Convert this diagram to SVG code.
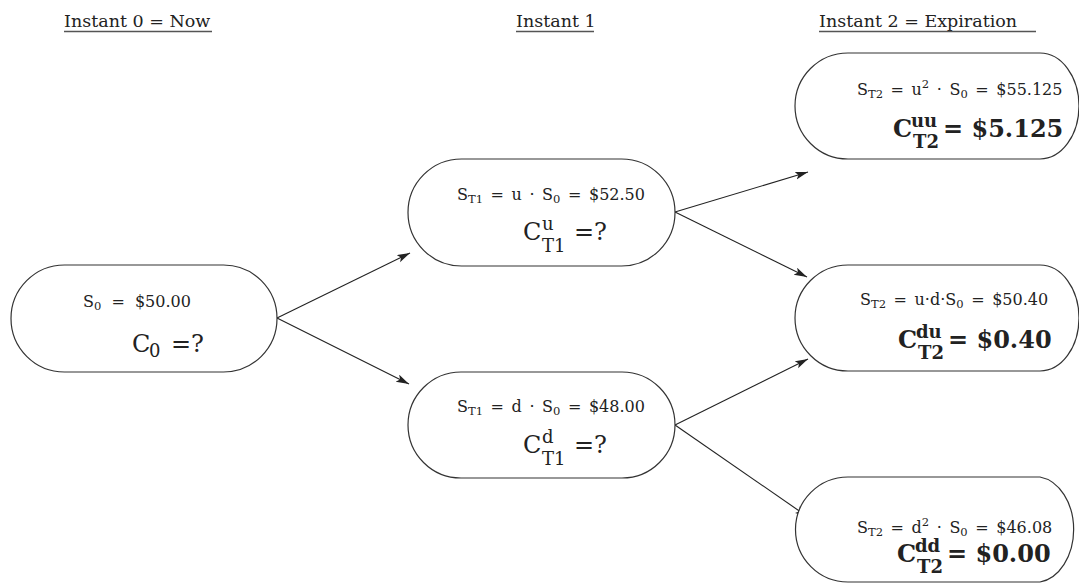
<svg xmlns="http://www.w3.org/2000/svg" width="1079" height="584" viewBox="0 0 1079 584">
<style>
text{font-family:"DejaVu Serif","Liberation Serif",serif;fill:#222;}
.hd{font-size:17.5px;}
.s{font-size:16px;word-spacing:2.5px;}
.sub{font-size:11.5px;}
.big{font-size:24px;}
.bsub{font-size:18px;}
.b{font-weight:bold;}
.node{fill:#fff;stroke:#333;stroke-width:1.2;}
.ul{stroke:#555;stroke-width:1.5;}
.edge{stroke:#222;stroke-width:1.1;fill:none;marker-end:url(#ah);}
</style>
<defs>
<marker id="ah" markerUnits="userSpaceOnUse" markerWidth="14" markerHeight="10" refX="13" refY="4" orient="auto">
<path d="M0,0 L13,4 L0,8 L3,4 z" fill="#222"/>
</marker>
</defs>
<rect width="1079" height="584" fill="#fff"/>
<g id="headers">
<text class="hd" x="64" y="27">Instant 0 = Now</text>
<line class="ul" x1="64" y1="31.5" x2="212" y2="31.5"/>
<text class="hd" x="516" y="27">Instant 1</text>
<line class="ul" x1="516" y1="31.5" x2="594" y2="31.5"/>
<text class="hd" x="819" y="27">Instant 2 = Expiration</text>
<line class="ul" x1="819" y1="31.5" x2="1036" y2="31.5"/>
</g>
<g id="connectors">
<line class="edge" x1="277" y1="318" x2="410" y2="253"/>
<line class="edge" x1="277" y1="318" x2="409" y2="384"/>
<line class="edge" x1="675" y1="212" x2="808" y2="172"/>
<line class="edge" x1="675" y1="212" x2="807" y2="277"/>
<line class="edge" x1="675" y1="425" x2="808" y2="359"/>
<line class="edge" x1="675" y1="425" x2="808" y2="517"/>
</g>
<g id="node-0">
<rect class="node" x="11" y="265" width="266" height="107" rx="53.5"/>
<text class="s" x="83" y="307" style="word-spacing:5px">S<tspan class="sub" dy="3">0</tspan><tspan dy="-3"> = $50.00</tspan></text>
<text class="big" x="132" y="352">C</text>
<text class="bsub" x="149" y="357">0</text>
<text class="big" x="171" y="352">=?</text>
</g>
<g id="node-t1-up">
<rect class="node" x="408" y="159" width="267" height="107" rx="53.5"/>
<text class="s" x="457" y="200">S<tspan class="sub" dy="3">T1</tspan><tspan dy="-3"> = u · S</tspan><tspan class="sub" dy="3">0</tspan><tspan dy="-3"> = $52.50</tspan></text>
<text class="big" x="523" y="240">C</text>
<text class="bsub" x="542" y="230">u</text>
<text class="bsub" x="542" y="252">T1</text>
<text class="big" x="574" y="240">=?</text>
</g>
<g id="node-t1-down">
<rect class="node" x="408" y="372" width="267" height="106" rx="53"/>
<text class="s" x="457" y="412">S<tspan class="sub" dy="3">T1</tspan><tspan dy="-3"> = d · S</tspan><tspan class="sub" dy="3">0</tspan><tspan dy="-3"> = $48.00</tspan></text>
<text class="big" x="523" y="453">C</text>
<text class="bsub" x="542" y="443">d</text>
<text class="bsub" x="542" y="465">T1</text>
<text class="big" x="574" y="453">=?</text>
</g>
<g id="node-t2-uu">
<path class="node" d="M848,53 H1040 A39,53 0 0 1 1040,159 H848 A53,53 0 0 1 848,53 Z"/>
<text class="s" x="857" y="95">S<tspan class="sub" dy="3">T2</tspan><tspan dy="-3"> = u</tspan><tspan class="sub" dy="-7">2</tspan><tspan dy="7"> · S</tspan><tspan class="sub" dy="3">0</tspan><tspan dy="-3"> = $55.125</tspan></text>
<text class="big b" x="893" y="137">C</text>
<text class="bsub b" x="911" y="127">uu</text>
<text class="bsub b" x="913" y="148">T2</text>
<text class="big b" x="943" y="137">= $5.125</text>
</g>
<g id="node-t2-du">
<path class="node" d="M848,265 H1040 A39,53 0 0 1 1040,371 H848 A53,53 0 0 1 848,265 Z"/>
<text class="s" x="860" y="305">S<tspan class="sub" dy="3">T2</tspan><tspan dy="-3"> = u·d·S</tspan><tspan class="sub" dy="3">0</tspan><tspan dy="-3"> = $50.40</tspan></text>
<text class="big b" x="898" y="348">C</text>
<text class="bsub b" x="916" y="338">du</text>
<text class="bsub b" x="918" y="359">T2</text>
<text class="big b" x="948" y="348">= $0.40</text>
</g>
<g id="node-t2-dd">
<path class="node" d="M848,477 H1040 A39,53 0 0 1 1040,582 H848 A52.5,52.5 0 0 1 848,477 Z"/>
<text class="s" x="857" y="533">S<tspan class="sub" dy="3">T2</tspan><tspan dy="-3"> = d</tspan><tspan class="sub" dy="-7">2</tspan><tspan dy="7"> · S</tspan><tspan class="sub" dy="3">0</tspan><tspan dy="-3"> = $46.08</tspan></text>
<text class="big b" x="897" y="562">C</text>
<text class="bsub b" x="915" y="552">dd</text>
<text class="bsub b" x="917" y="573">T2</text>
<text class="big b" x="947" y="562">= $0.00</text>
</g>
</svg>
